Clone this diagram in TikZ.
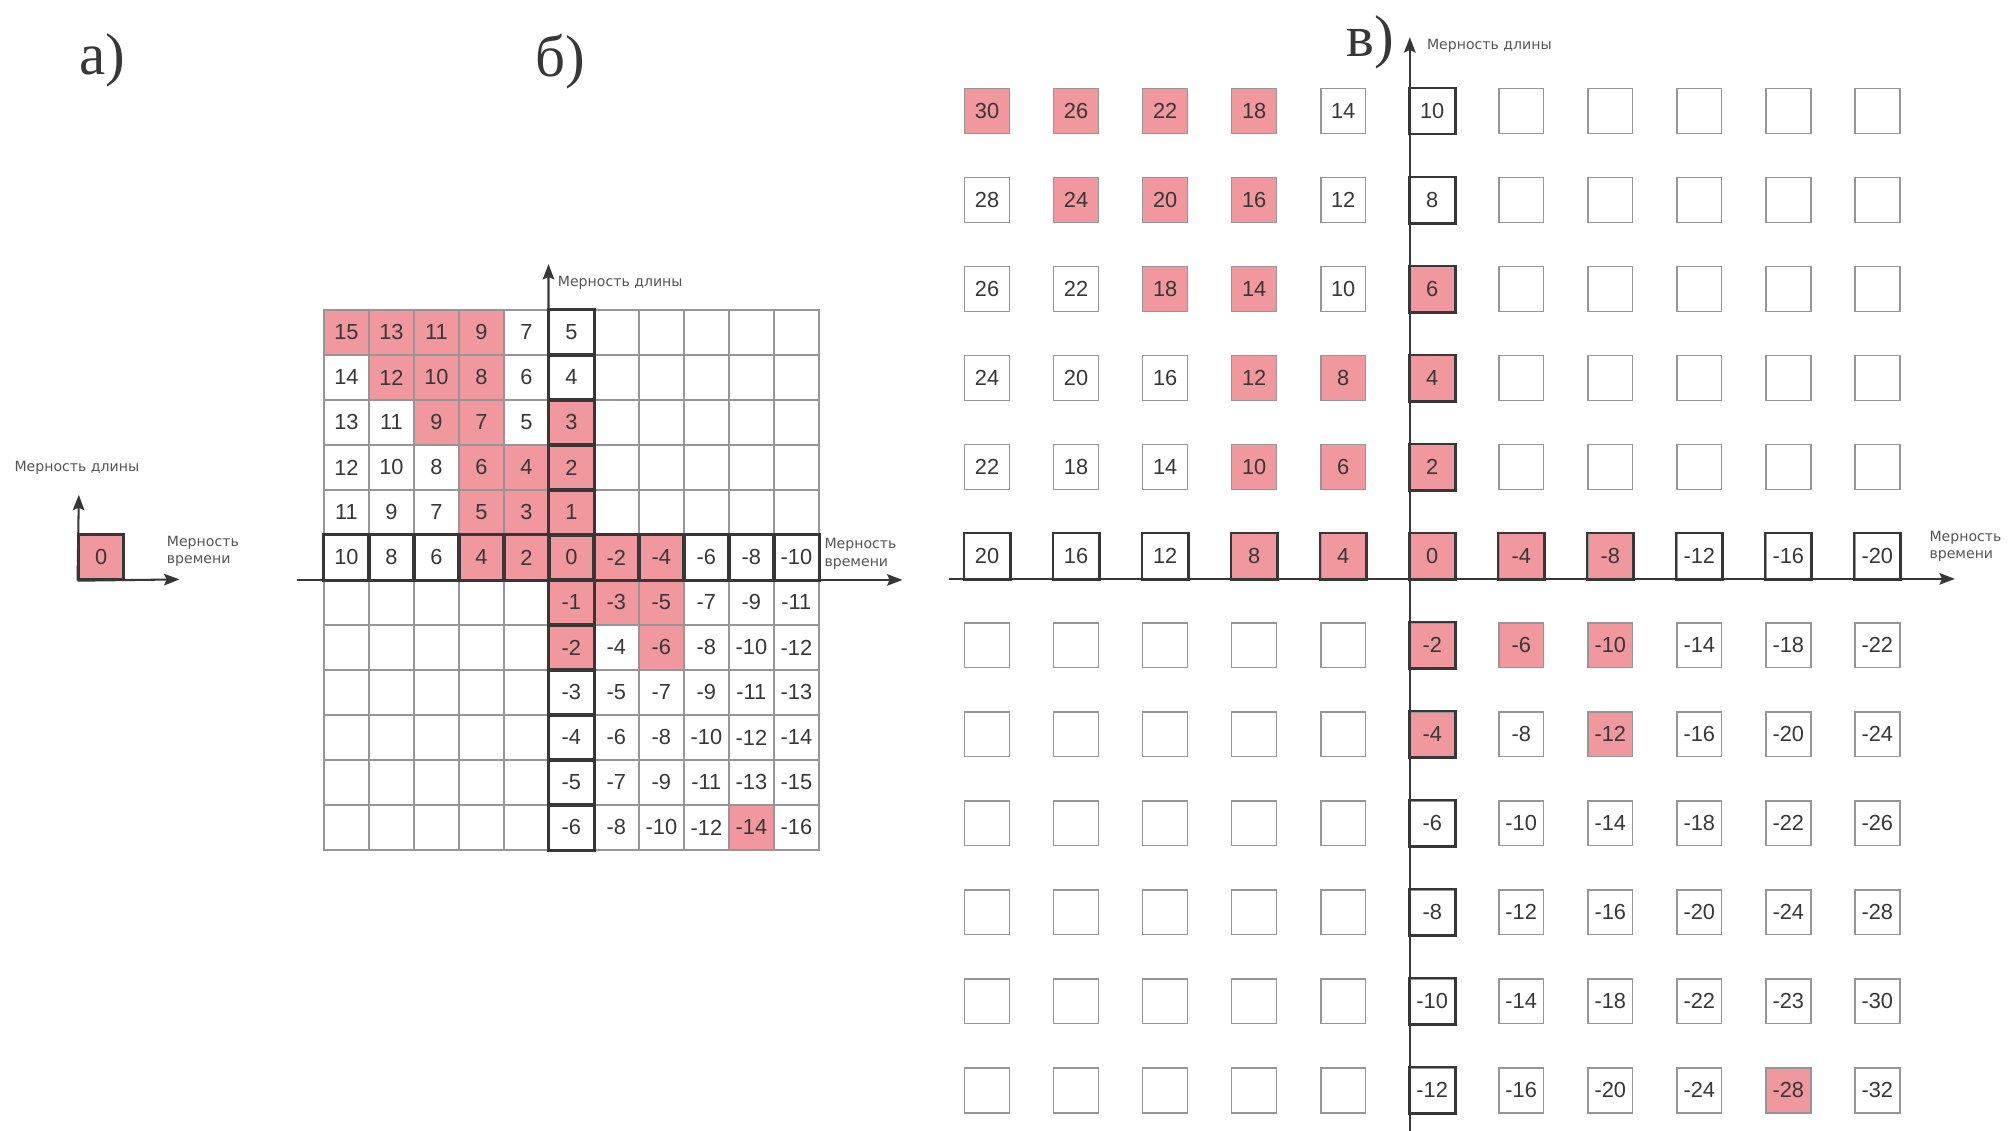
\documentclass[tikz,border=0pt]{standalone}
\usepackage{fontspec}
\setmainfont{Liberation Sans}
\newfontfamily\panelfont{Liberation Serif}
\newfontfamily\axisfont{DejaVu Sans}
\usetikzlibrary{arrows.meta}
\definecolor{cellpink}{RGB}{240,152,157}
\definecolor{linegray}{RGB}{150,150,150}
\definecolor{inkgray}{RGB}{55,55,55}
\def\pinkcells{0/0,0/1,0/2,0/3,1/1,1/2,1/3,2/2,2/3,2/5,3/3,3/4,3/5,4/3,4/4,4/5,5/3,5/4,5/5,5/6,5/7,6/5,6/6,6/7,7/5,7/7,11/9}
\begin{document}
\begin{tikzpicture}[x=1pt,y=-1pt, every node/.style={font=\fontsize{17}{19}\selectfont,text=inkgray},
  gridcell/.style={draw=linegray,line width=1pt,minimum size=35.1pt,inner sep=0pt},
  boxcell/.style={draw=linegray,line width=1.2pt,minimum size=35pt,inner sep=0pt},
  axiscell/.style={draw=inkgray,line width=2pt},
  axisline/.style={draw=inkgray,line width=1.6pt,-{Stealth[length=12pt,width=9pt,inset=2pt]}},
  axislabel/.style={font=\axisfont\fontsize{11}{13.5}\selectfont,text=inkgray!85,align=left,inner sep=0pt,anchor=west},
  panel/.style={font=\panelfont\fontsize{46}{46}\selectfont,text=inkgray}]
\useasboundingbox (0,0) rectangle (1568,882);
% a)
\node[panel] (lbl-a) at (80,47) {а)};
\node[boxcell,axiscell,fill=cellpink] (a-0) at (79,434.5) {0};
\coordinate (a-ytip) at (61.5,386);
\coordinate (a-xtip) at (140,452);
\draw[axisline] (a-0.south west) -- (a-ytip);
\draw[axisline] (a-0.south west) -- (a-xtip);
\node[axislabel,anchor=center] (a-ylab) at (60,365) {Мерность длины};
\node[axislabel] (a-xlab) at (130,430) {Мерность\\времени};
% b)
\node[panel] (lbl-b) at (437,48) {б)};
\foreach \r/\c in \pinkcells
  \fill[cellpink] ({252.7+35.1*\c},{241.8+35.1*\r}) rectangle +(35.1,35.1);
\foreach \r in {0,...,11}{
  \foreach \c in {0,...,10}{
    \pgfmathtruncatemacro\q{(\r-5)*(\c-5)}
    \pgfmathtruncatemacro\v{15-2*\c-\r}
    \ifnum\q<0 \def\v{}\fi
    \node[gridcell] (b-\r-\c) at ({270.25+35.1*\c},{259.35+35.1*\r}) {\v};
  }
}
\foreach \i in {0,...,10} \draw[axiscell] (b-5-\i.south west) rectangle (b-5-\i.north east);
\foreach \i in {0,...,11} \draw[axiscell] (b-\i-5.south west) rectangle (b-\i-5.north east);
\coordinate (b-xtail) at (231.7,452.4);
\coordinate (b-xtip) at (704,452.4);
\coordinate (b-ytip) at (427.9,206);
\draw[axisline] (b-xtail) -- (b-xtip);
\draw[axisline] (b-11-5.south west) -- (b-ytip);
\node[axislabel] (b-ylab) at (435,221) {Мерность длины};
\node[axislabel] (b-xlab) at (643,432) {Мерность\\времени};
% v)
\node[panel] (lbl-v) at (1069,33) {в)};
\foreach \r/\c in \pinkcells
  \fill[cellpink] ({752.5+69.45*\c},{69.1+69.45*\r}) rectangle +(35,35);
\foreach \r in {0,...,11}{
  \foreach \c in {0,...,10}{
    \pgfmathtruncatemacro\q{(\r-5)*(\c-5)}
    \pgfmathtruncatemacro\v{30-4*\c-2*\r}
    \ifnum\r=10 \ifnum\c=9 \def\v{-23}\fi\fi
    \ifnum\q<0 \def\v{}\fi
    \node[boxcell] (v-\r-\c) at ({770+69.45*\c},{86.6+69.45*\r}) {\v};
  }
}
\foreach \i in {0,...,10} \draw[axiscell] (v-5-\i.south west) rectangle (v-5-\i.north east);
\foreach \i in {0,...,11} \draw[axiscell] (v-\i-5.south west) rectangle (v-\i-5.north east);
\coordinate (v-xtail) at (740,451.6);
\coordinate (v-xtip) at (1525,451.6);
\coordinate (v-ybot) at (1099.8,882);
\coordinate (v-ytip) at (1099.8,29);
\draw[axisline] (v-xtail) -- (v-xtip);
\draw[axisline] (v-ybot) -- (v-ytip);
\node[axislabel] (v-ylab) at (1113,36) {Мерность длины};
\node[axislabel] (v-xlab) at (1505,426) {Мерность\\времени};
\end{tikzpicture}
\end{document}
